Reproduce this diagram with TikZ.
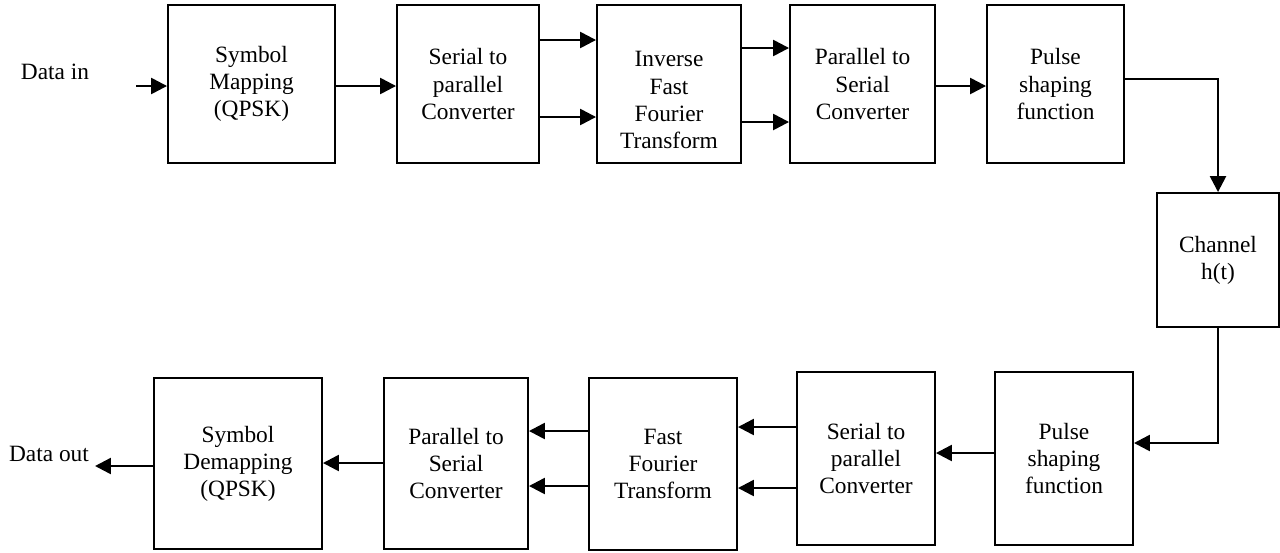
\documentclass[tikz,border=0pt]{standalone}
\usepackage{fontspec}
\setmainfont{Liberation Serif}
\usetikzlibrary{arrows.meta}

\tikzset{
  block/.style={draw, line width=1.1pt, align=center, inner sep=0pt,
    font=\fontsize{13.3}{15.4}\selectfont},
  txt/.style={inner sep=0pt, font=\fontsize{13.3}{15.4}\selectfont},
  flow/.style={->, line width=1.4pt}
}

\begin{document}
\begin{tikzpicture}[x=0.02cm, y=-0.02cm, >={Triangle[length=0.32cm,width=0.32cm]}]
        \useasboundingbox (0,0) rectangle (1280,552);

        % Transmitter chain
        \node[block, minimum width=3.34cm, minimum height=3.16cm] (map) at (251.5,84) {Symbol\\Mapping\\(QPSK)};
        \node[block, minimum width=2.84cm, minimum height=3.16cm] (s2p) at (468,84) {Serial to\\parallel\\Converter};
        \node[block, minimum width=2.88cm, minimum height=3.16cm,
              label={[txt, align=center, yshift=-0.32cm]center:Inverse\\Fast\\Fourier\\Transform}] (ifft) at (669,84) {};
        \node[block, minimum width=2.90cm, minimum height=3.16cm] (p2s) at (862.5,84) {Parallel to\\Serial\\Converter};
        \node[block, minimum width=2.74cm, minimum height=3.16cm] (pulse) at (1055.5,84) {Pulse\\shaping\\function};

        % Channel
        \node[block, minimum width=2.44cm, minimum height=2.68cm] (chan) at (1218,260) {Channel\\h(t)};

        % Receiver chain
        \node[block, minimum width=2.76cm, minimum height=3.46cm] (rxpulse) at (1064,458.5) {Pulse\\shaping\\function};
        \node[block, minimum width=2.76cm, minimum height=3.46cm] (rxs2p) at (866,458.5) {Serial to\\parallel\\Converter};
        \node[block, minimum width=2.96cm, minimum height=3.44cm] (fft) at (663,464) {Fast\\Fourier\\Transform};
        \node[block, minimum width=2.88cm, minimum height=3.42cm] (rxp2s) at (456,463.5) {Parallel to\\Serial\\Converter};
        \node[block, minimum width=3.36cm, minimum height=3.42cm] (demap) at (238,463.5) {Symbol\\Demapping\\(QPSK)};

        % Input and output
        \node[txt] (datain) at (55,72) {Data in};
        \node[txt] (dataout) at (49,454) {Data out};
        \coordinate (din) at (136,86);
        \coordinate (dout) at (95,466);

        % Top row arrows
        \draw[flow] (din) -- (map.west |- din);
        \draw[flow] (map.east |- 0,86) -- (s2p.west |- 0,86);
        \foreach \y in {40,117}
            \draw[flow] (s2p.east |- 0,\y) -- (ifft.west |- 0,\y);
        \foreach \y in {48,122}
            \draw[flow] (ifft.east |- 0,\y) -- (p2s.west |- 0,\y);
        \draw[flow] (p2s.east |- 0,86) -- (pulse.west |- 0,86);

        % Through the channel
        \draw[flow] (pulse.east |- 0,79) -| (chan.north);
        \draw[flow] (chan.south) |- (rxpulse.east |- 0,443);

        % Bottom row arrows
        \draw[flow] (rxpulse.west |- 0,453) -- (rxs2p.east |- 0,453);
        \foreach \y in {427,488}
            \draw[flow] (rxs2p.west |- 0,\y) -- (fft.east |- 0,\y);
        \foreach \y in {431,486}
            \draw[flow] (fft.west |- 0,\y) -- (rxp2s.east |- 0,\y);
        \draw[flow] (rxp2s.west |- 0,463) -- (demap.east |- 0,463);
        \draw[flow] (demap.west |- dout) -- (dout);
    \end{tikzpicture}
\end{document}
